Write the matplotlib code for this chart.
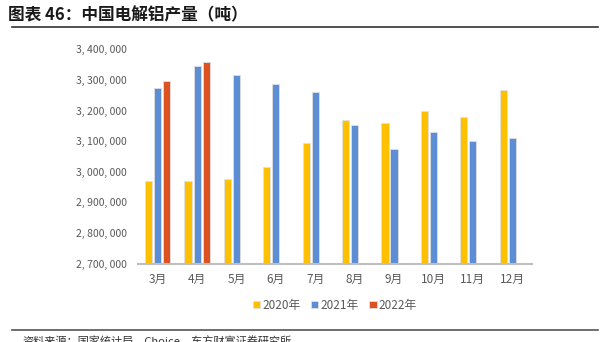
import numpy as np
import matplotlib.pyplot as plt
from matplotlib.ticker import FuncFormatter

plt.rcParams['font.family'] = ['Noto Sans CJK SC', 'DejaVu Sans']

months = ['3月', '4月', '5月', '6月', '7月', '8月', '9月', '10月', '11月', '12月']
series_names = ['2020年', '2021年', '2022年']
y2020 = [2970000, 2969000, 2975000, 3015000, 3095000, 3169000, 3160000, 3198000, 3179000, 3266000]
y2021 = [3273000, 3344000, 3315000, 3288000, 3260000, 3154000, 3073000, 3131000, 3101000, 3109000]
y2022 = [3295000, 3358000]
colors = ['#FFC000', '#5B8ED5', '#DD5222']

fig = plt.figure(figsize=(6.07, 3.42), dpi=100)
ax = fig.add_axes([0.2273, 0.2295, 0.649, 0.6263])

x = np.arange(len(months))
w = 0.18
off = 0.23
ax.bar(x - off, y2020, w, color=colors[0], edgecolor='#E0E0E0', linewidth=0.6, label=series_names[0])
ax.bar(x, y2021, w, color=colors[1], edgecolor='#E0E0E0', linewidth=0.6, label=series_names[1])
ax.bar(x[:len(y2022)] + off, y2022, w, color=colors[2], edgecolor='#E0E0E0', linewidth=0.6, label=series_names[2])

ax.set_ylim(2700000, 3400000)
ax.set_xlim(-0.5, len(months) - 0.5)
ax.set_yticks(np.arange(2700000, 3400001, 100000))
ax.yaxis.set_major_formatter(FuncFormatter(lambda v, p: '{:,}'.format(int(v)).replace(',', ', ')))
ax.set_xticks(x)
ax.set_xticklabels(months)
ax.tick_params(axis='both', length=0, labelsize=7.5, colors='#595959')
ax.tick_params(axis='x', labelsize=8.5, pad=7)
ax.tick_params(axis='y', pad=8)
for s in ['top', 'right', 'left']:
    ax.spines[s].set_visible(False)
ax.spines['bottom'].set_color('#BFBFBF')
ax.spines['bottom'].set_linewidth(1.5)

leg = ax.legend(loc='center', bbox_to_anchor=(335 / 607, 1 - 305 / 342), bbox_transform=fig.transFigure,
                ncol=3, frameon=False, fontsize=8.5, handlelength=0.6, handleheight=0.6,
                handletextpad=0.2, columnspacing=0.9)
for t in leg.get_texts():
    t.set_color('#595959')

fig.text(8 / 607, 1 - 15 / 342, '图表 46：中国电解铝产量（吨）', fontsize=12, fontweight='bold',
         va='center', ha='left', color='#1A1A1A')
fig.add_artist(plt.Line2D([12 / 607, 598 / 607], [1 - 27 / 342] * 2, color='#333333', lw=1.2))
fig.add_artist(plt.Line2D([12 / 607, 598 / 607], [1 - 330 / 342] * 2, color='#555555', lw=1.2))
fig.text(22 / 607, 1 - 342 / 342, '资料来源：国家统计局，Choice，东方财富证券研究所', fontsize=8,
         va='center', ha='left', color='#333333')

plt.savefig('out.png', dpi=100)
